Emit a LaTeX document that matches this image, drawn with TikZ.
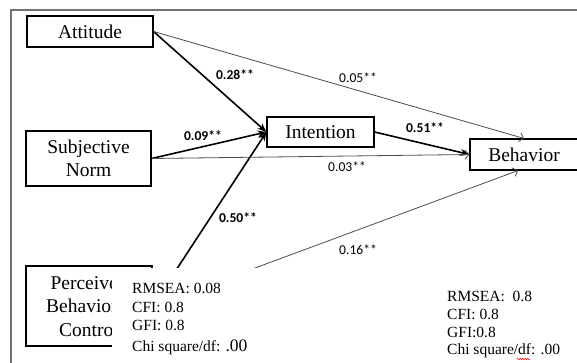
\documentclass[tikz,border=0pt]{standalone}
\usepackage{fontspec}
\setmainfont{Liberation Serif}
\newfontfamily\lblfont{Carlito}
\usetikzlibrary{arrows.meta,decorations.pathmorphing}
\begin{document}
\begin{tikzpicture}[x=1pt,y=-1pt,
  box/.style={draw=black,line width=1.1pt,fill=white,inner sep=0pt,align=center,
    font=\fontsize{19.5}{23.5}\selectfont},
  strong/.style={line width=1.6pt,-{Stealth[length=9pt,width=7pt]}},
  weak/.style={draw=black!70,line width=0.8pt,-{Straight Barb[length=4pt,width=9pt]}},
  boldlbl/.style={font=\lblfont\fontsize{13.6}{16}\bfseries\selectfont,inner sep=0pt},
  plainlbl/.style={font=\lblfont\fontsize{13.6}{16}\selectfont,inner sep=0pt},
  fitline/.style={anchor=base west,inner sep=0pt,font=\fontsize{15.5}{18}\selectfont}]
\useasboundingbox (0,0) rectangle (577,363);

% frame
\draw[black!55,line width=1.5pt] (11,364) -- (11,10) -- (590,10);

% constructs
\node[box,minimum width=126pt,minimum height=31pt] (A) at (90,31.5) {Attitude};
\node[box,minimum width=125pt,minimum height=55pt] (S) at (88.5,158.5) {Subjective\\Norm};
\node[box,minimum width=126pt,minimum height=80pt] (P) at (89,306) {Perceived\\Behavioral\\Control};
\node[box,minimum width=107pt,minimum height=30pt] (I) at (320.5,132) {Intention};
\node[box,minimum width=108pt,minimum height=31pt] (B) at (524,154.5) {Behavior};

% paths
\draw[strong] (A.east) -- (I.west);
\draw[strong] (S.east) -- (I.west);
\draw[strong] (P.east) -- (I.west);
\draw[strong] (I.east) -- (B.west);
\draw[weak] (A.east) -- (B.north);
\draw[weak] (S.east) -- (B.west);
\draw[weak] (P.east) -- ([xshift=-6pt]B.south);

% coefficients
\node[boldlbl] (l1) at (235,75) {0.28**};
\node[boldlbl] (l2) at (203,136) {0.09**};
\node[boldlbl] (l3) at (238,218) {0.50**};
\node[boldlbl] (l4) at (425,128) {0.51**};
\node[plainlbl] (l5) at (358,78) {0.05**};
\node[plainlbl] (l6) at (347,167) {0.03**};
\node[plainlbl] (l7) at (358,250) {0.16**};

% fit indices panel laid over the lower left
\fill[white] (112,268) rectangle (300,364);
\node[fitline] (f1) at (132,293) {RMSEA: 0.08};
\node[fitline] (f2) at (132,312) {CFI: 0.8};
\node[fitline] (f3) at (132,330) {GFI: 0.8};
\node[fitline] (f4) at (132,351) {Chi square/df: {\fontsize{17.5}{20}\selectfont.00}};

\node[fitline] (g1) at (447,301) {RMSEA:\ \ 0.8};
\node[fitline] (g2) at (447,319) {CFI: 0.8};
\node[fitline] (g3) at (447,337) {GFI:0.8};
\node[fitline] (g4) at (447,354) {Chi square/df: .00};
\draw[red,line width=0.5pt,decorate,decoration={snake,amplitude=0.8pt,segment length=2.5pt}]
  (517,359) -- (530,359);
\end{tikzpicture}
\end{document}
